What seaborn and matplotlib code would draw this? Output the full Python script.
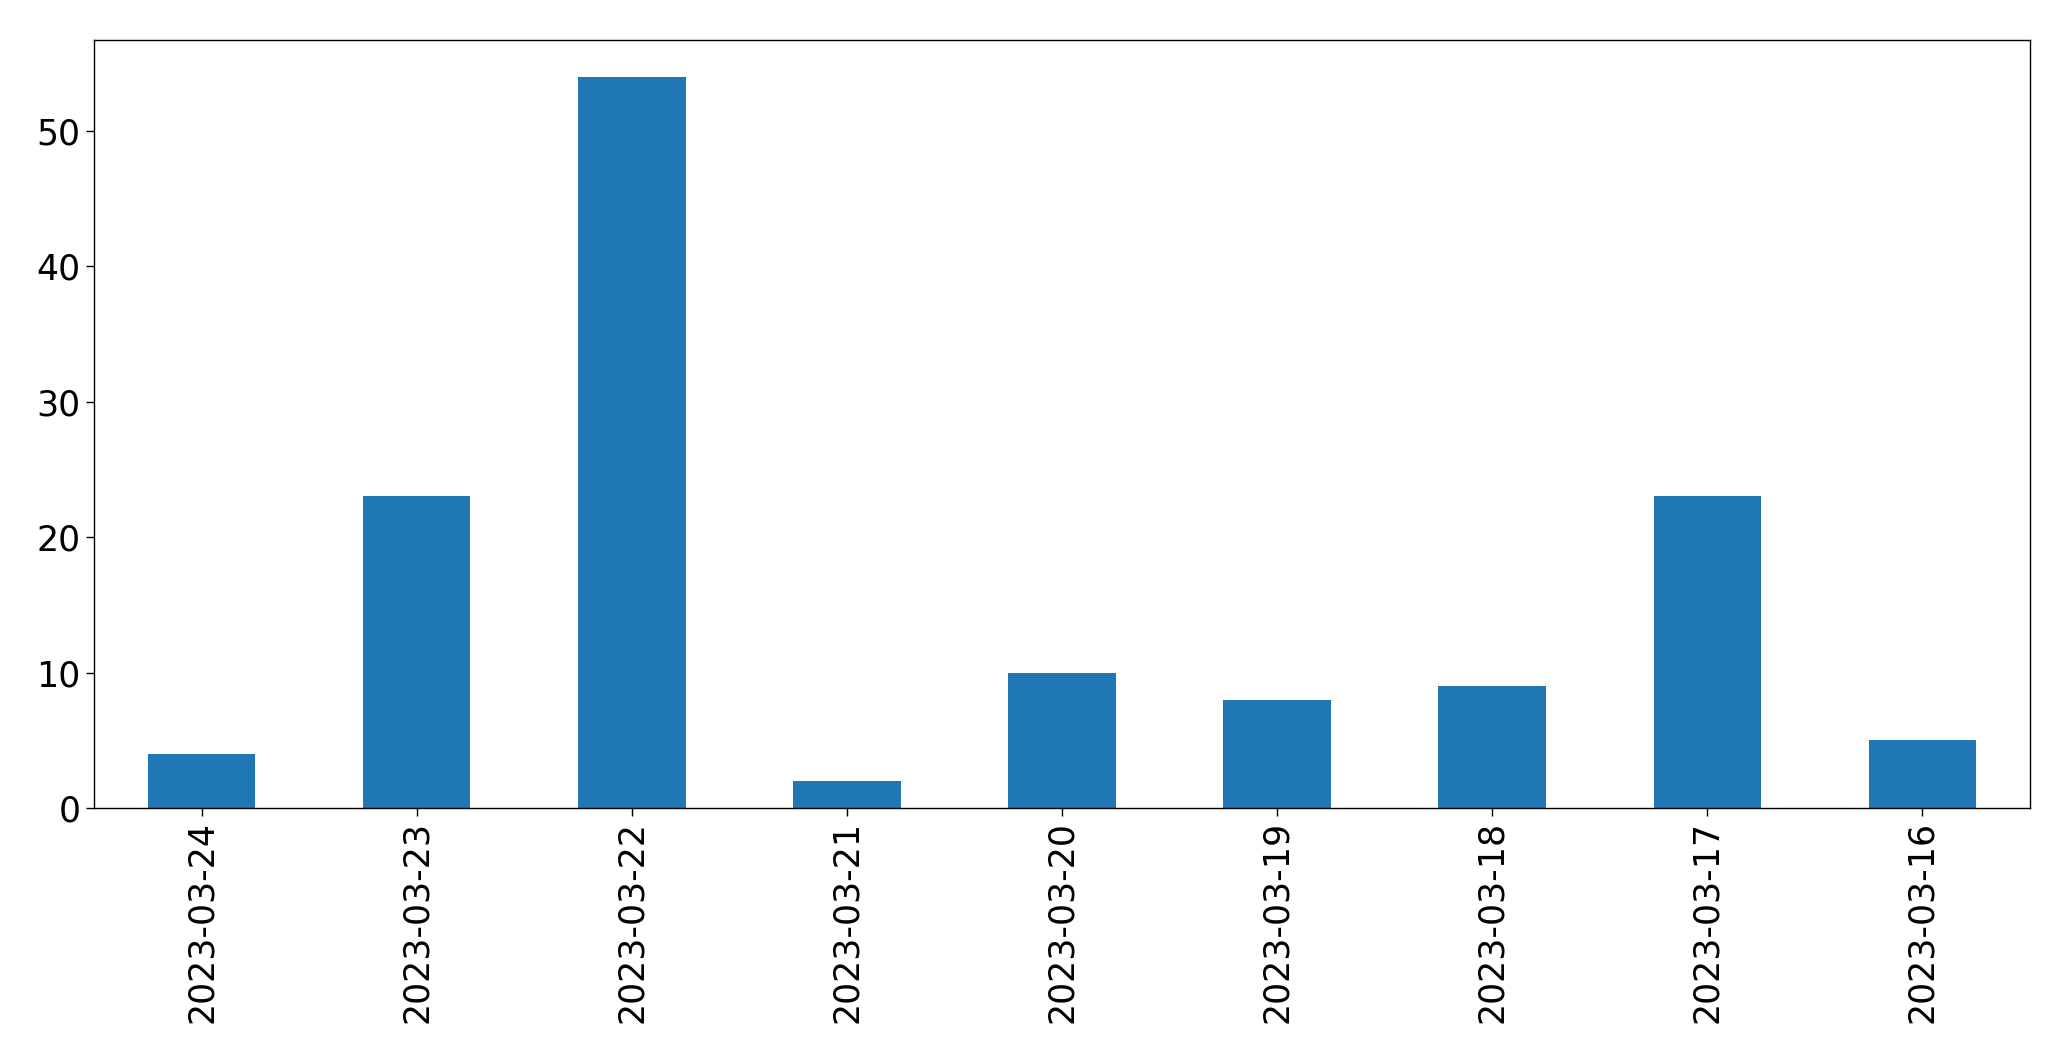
import pandas as pd
import matplotlib.pyplot as plt
import seaborn as sns

# daily counts, in the order shown
dates = ["2023-03-24", "2023-03-23", "2023-03-22", "2023-03-21", "2023-03-20",
         "2023-03-19", "2023-03-18", "2023-03-17", "2023-03-16"]
counts = [4, 23, 54, 2, 10, 8, 9, 23, 5]

df = pd.DataFrame({"date": dates, "count": counts})

sns.set_style("white")
plt.rcParams['font.family'] = ['DejaVu Sans']
plt.rcParams['text.color'] = 'black'
plt.rcParams['xtick.color'] = 'black'
plt.rcParams['ytick.color'] = 'black'

fig, ax = plt.subplots(figsize=(20.71, 10.61), dpi=100)
sns.barplot(x="date", y="count", data=df, order=dates, color="#1f77b4",
            saturation=1, width=0.5, linewidth=0, ax=ax)
ax.set_xlabel("")
ax.set_ylabel("")
ax.tick_params(axis="both", labelsize=25, length=6, width=1, left=True, bottom=True,
               colors="black")
plt.xticks(rotation=90)
ax.set_xlim(-0.5, len(dates) - 0.5)
for s in ax.spines.values():
    s.set_color("black")
    s.set_linewidth(1)

fig.subplots_adjust(left=94/2071, right=2030/2071, top=1-40/1061, bottom=1-808/1061)
plt.savefig("out.png", dpi=100)
